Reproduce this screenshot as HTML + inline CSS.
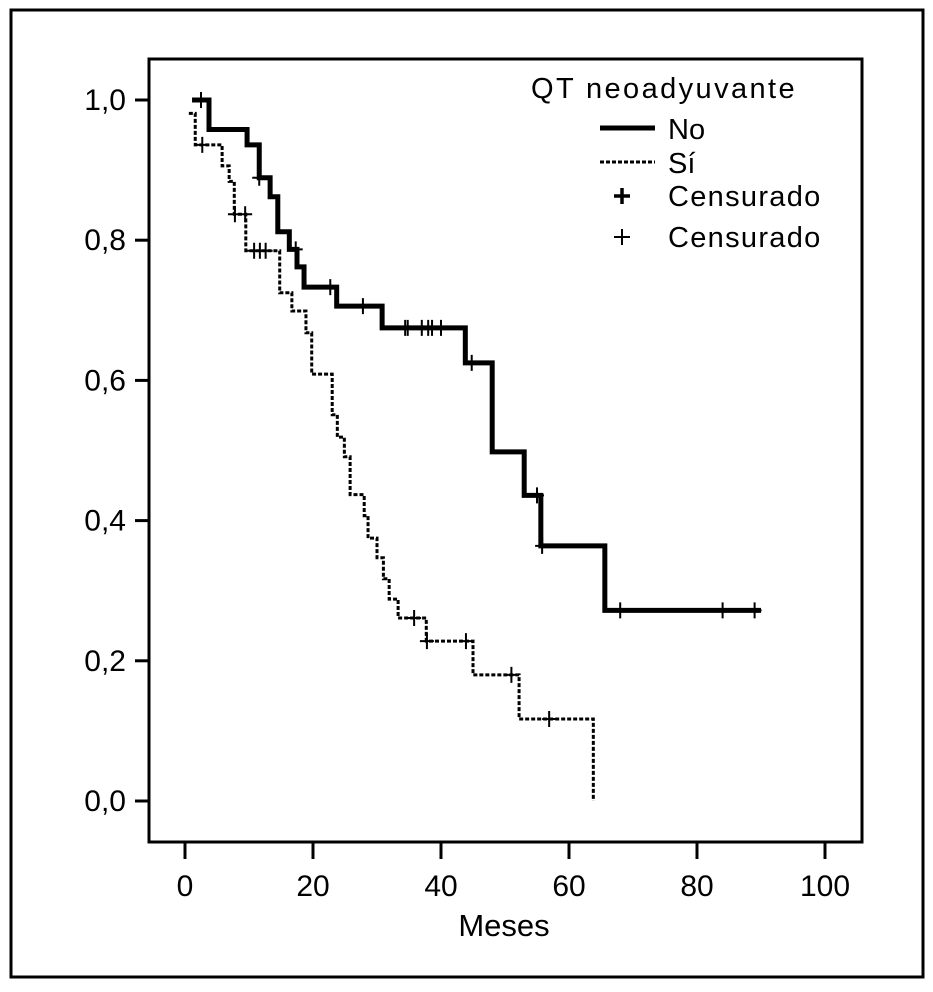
<!DOCTYPE html>
<html><head><meta charset="utf-8"><style>
html,body{margin:0;padding:0;background:#fff;}
svg text{font-family:"Liberation Sans",sans-serif;fill:#000;}
</style></head><body>
<svg id="chart" width="933" height="987" viewBox="0 0 933 987" xmlns="http://www.w3.org/2000/svg">
<rect x="11" y="10" width="912" height="967" fill="none" stroke="#000" stroke-width="3"/>
<rect x="149" y="59" width="713" height="783" fill="none" stroke="#000" stroke-width="3"/>
<g id="axes"></g>
<g id="series"></g>
<g>
<text x="531" y="98" font-size="29" letter-spacing="2.4">QT neoadyuvante</text>
<line x1="600" y1="128" x2="655" y2="128" stroke="#000" stroke-width="5"/>
<text x="668" y="139" font-size="29">No</text>
<line x1="600" y1="162" x2="655" y2="162" stroke="#000" stroke-width="3" stroke-dasharray="4,2"/>
<text x="668" y="173" font-size="29">Sí</text>
<path d="M614 196h16M622 188v16" stroke="#000" stroke-width="3.5"/>
<text x="668" y="206" font-size="29" letter-spacing="1.3">Censurado</text>
<path d="M614 237h16M622 229v16" stroke="#000" stroke-width="2"/>
<text x="668" y="247" font-size="29" letter-spacing="1.3">Censurado</text>
</g>
<text x="504" y="936" font-size="31" text-anchor="middle">Meses</text>
</svg>
<script>
const xTicks=[0,20,40,60,80,100];
const yTicks=[0,0.2,0.4,0.6,0.8,1.0];
const yTickLabels=["0,0","0,2","0,4","0,6","0,8","1,0"];
const noStartT=1.1;
const noTimes=[3.75,9.7,11.6,13.3,14.5,16.3,17.5,18.6,23.7,30.8,43.8,48,53,55.6,65.6];
const noSurv=[1.0,0.958,0.936,0.889,0.862,0.812,0.787,0.762,0.733,0.706,0.675,0.625,0.498,0.436,0.364,0.272];
const noEndT=90;
const noCensT=[2.5,11.6,17.3,22.7,27.8,34.4,34.8,37,38,38.6,40,44.8,55,55.8,68,84,89];
const siStartT=0.6;
const siTimes=[1.6,5.8,6.9,7.7,9.5,14.8,16.7,18.9,19.8,23,23.8,24.9,25.8,28,28.6,30,31,31.9,33.3,37.7,45,52.2,63.8];
const siSurv=[0.981,0.936,0.906,0.884,0.837,0.785,0.725,0.699,0.668,0.609,0.551,0.519,0.491,0.437,0.407,0.375,0.347,0.317,0.288,0.261,0.228,0.180,0.117,0.0];
const siCensT=[2.7,7.8,9.4,10.8,11.7,12.6,35.8,37.8,43.9,51,56.9];

const X=t=>185+6.4*t;
const Y=s=>801-701*s;
const NS="http://www.w3.org/2000/svg";
const axes=document.getElementById('axes');
const ser=document.getElementById('series');
function mk(tag,attrs,parent){const e=document.createElementNS(NS,tag);for(const k in attrs)e.setAttribute(k,attrs[k]);parent.appendChild(e);return e;}
xTicks.forEach(v=>{
 const l=mk('line',{x1:X(v),x2:X(v),y1:843,y2:859,stroke:'#000','stroke-width':3},axes);
 
 
 const t=mk('text',{x:X(v),y:896,'font-size':30,'text-anchor':'middle'},axes);
 t.textContent=v;
 
 
});
yTicks.forEach((v,i)=>{
 const l=mk('line',{x1:135,x2:149,y1:Y(v),y2:Y(v),stroke:'#000','stroke-width':3},axes);
 
 
 const t=mk('text',{x:126,y:Y(v)+10,'font-size':30,'text-anchor':'end'},axes);
 t.textContent=yTickLabels[i];
 
 
});
function stepPath(t0,times,surv,endT){
 let d='M'+X(t0)+' '+Y(surv[0]);
 times.forEach((t,i)=>{d+=' H'+X(t)+' V'+Y(surv[i+1]);});
 if(endT!==null)d+=' H'+X(endT);
 return d;
}
function survAt(t,times,surv){let s=surv[0];times.forEach((tt,i)=>{if(t>=tt)s=surv[i+1];});return s;}
const pNo=mk('path',{d:stepPath(noStartT,noTimes,noSurv,noEndT),fill:'none',stroke:'#000','stroke-width':5},ser);


const pSi=mk('path',{d:stepPath(siStartT,siTimes,siSurv,null),fill:'none',stroke:'#000','stroke-width':3,'stroke-dasharray':'4,2'},ser);


noCensT.forEach(t=>{
 const s=survAt(t,noTimes,noSurv);
 const c=mk('path',{d:`M${X(t)-7} ${Y(s)}h14M${X(t)} ${Y(s)-8}v16`,stroke:'#000','stroke-width':2},ser);
 
 
});
siCensT.forEach(t=>{
 const s=survAt(t,siTimes,siSurv);
 const c=mk('path',{d:`M${X(t)-7} ${Y(s)}h14M${X(t)} ${Y(s)-8}v16`,stroke:'#000','stroke-width':2},ser);
 
 
});
</script>
</body></html>
